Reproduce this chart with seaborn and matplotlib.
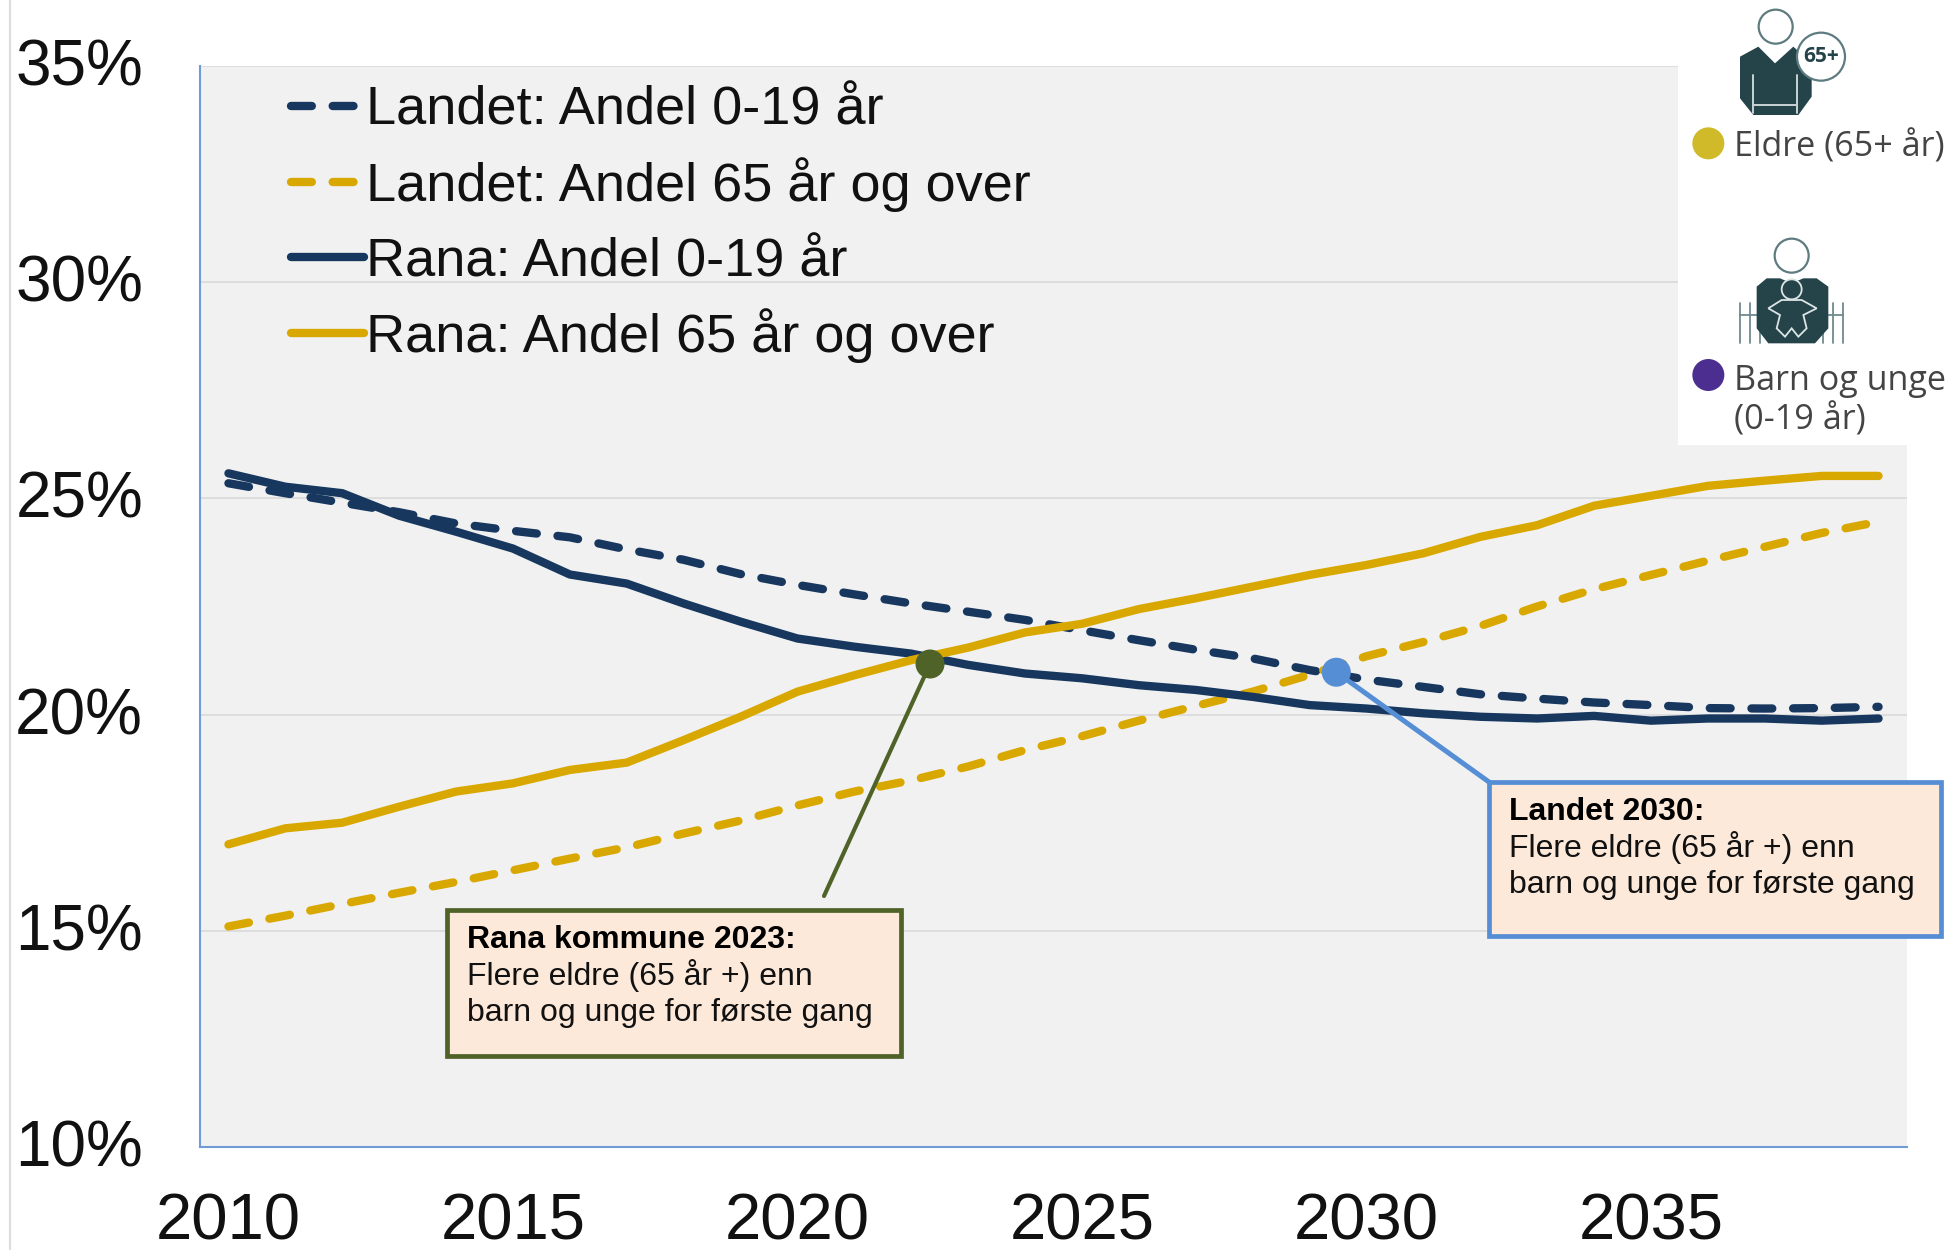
import matplotlib
matplotlib.use("Agg")
import matplotlib.pyplot as plt
from matplotlib.patches import Circle, Polygon, Rectangle
from matplotlib.transforms import ScaledTranslation
import seaborn as sns
import pandas as pd

years = list(range(2010, 2040))
landet_0_19 = [25.35, 25.12, 24.9, 24.68, 24.42, 24.25, 24.1, 23.82, 23.58, 23.25, 23.0, 22.78, 22.57, 22.38,
               22.19, 21.95, 21.72, 21.5, 21.3, 21.03, 20.81, 20.64, 20.47, 20.37, 20.28, 20.22, 20.15, 20.14, 20.15, 20.18]
landet_65 = [15.1, 15.35, 15.62, 15.88, 16.13, 16.4, 16.67, 16.93, 17.25, 17.55, 17.9, 18.22, 18.48, 18.8,
             19.18, 19.5, 19.86, 20.2, 20.53, 20.92, 21.35, 21.68, 22.05, 22.5, 22.9, 23.23, 23.56, 23.88, 24.2, 24.46]
rana_0_19 = [25.58, 25.27, 25.12, 24.6, 24.23, 23.84, 23.24, 23.03, 22.57, 22.15, 21.76, 21.57, 21.41, 21.15,
             20.95, 20.84, 20.68, 20.57, 20.41, 20.22, 20.14, 20.03, 19.95, 19.91, 19.97, 19.86, 19.91, 19.91, 19.86, 19.91]
rana_65 = [17.0, 17.37, 17.5, 17.87, 18.22, 18.41, 18.72, 18.89, 19.41, 19.95, 20.53, 20.91, 21.26, 21.55,
           21.9, 22.1, 22.44, 22.69, 22.96, 23.23, 23.46, 23.73, 24.11, 24.38, 24.83, 25.06, 25.29, 25.41, 25.52, 25.52]
series_labels = ["Landet: Andel 0-19 år", "Landet: Andel 65 år og over", "Rana: Andel 0-19 år", "Rana: Andel 65 år og over"]
y_ticks = [10, 15, 20, 25, 30, 35]
x_ticks = [2010, 2015, 2020, 2025, 2030, 2035]
callout_rana = (2022.33, 21.17)
callout_landet = (2029.47, 20.98)

NAVY, GOLD = "#17375E", "#D9A800"
GREEN, BLUE = "#4F6228", "#558ED5"
TEAL = "#24444A"
BOX = "#FDE9D9"

sns.set_theme(style="white")
plt.rcParams["font.family"] = ["Liberation Sans", "DejaVu Sans"]

W, H = 1952, 1250
fig = plt.figure(figsize=(W / 100, H / 100), dpi=100, facecolor="white")
ax = fig.add_axes([200 / W, 1 - 1147 / H, (1907 - 200) / W, (1147 - 66) / H], facecolor="#F1F1F1")

df = pd.DataFrame({"year": years, series_labels[0]: landet_0_19, series_labels[1]: landet_65,
                   series_labels[2]: rana_0_19, series_labels[3]: rana_65})
styles = [(NAVY, True), (GOLD, True), (NAVY, False), (GOLD, False)]
for name, (col, dashed) in zip(series_labels, styles):
    kw = dict(dashes=(2.5, 2.5), dash_capstyle="round") if dashed else dict(solid_capstyle="round")
    sns.lineplot(data=df, x="year", y=name, ax=ax, color=col, lw=6, label=name, zorder=3, **kw)

ax.set_xlim(2009.5, 2039.5)
ax.set_ylim(10, 35)
ax.set_xticks(x_ticks)
ax.set_yticks(y_ticks)
ax.set_xticklabels([str(v) for v in x_ticks], fontsize=47, color="#111111")
ax.set_yticklabels([f"{v}%" for v in y_ticks], fontsize=46, color="#111111")
ax.tick_params(axis="x", length=0, pad=33)
ax.tick_params(axis="y", length=0, pad=41)
shift_up = ScaledTranslation(0, 4 / 100, fig.dpi_scale_trans)
for lab in ax.get_yticklabels():
    lab.set_transform(lab.get_transform() + shift_up)
ax.set_xlabel("")
ax.set_ylabel("")
ax.yaxis.grid(True, color="#D9D9D9", lw=1.2)
ax.set_axisbelow(True)
for s in ("top", "right"):
    ax.spines[s].set_visible(False)
for s in ("left", "bottom"):
    ax.spines[s].set_color("#6F9BD6")
    ax.spines[s].set_linewidth(1.5)

leg = ax.legend(loc="upper left", bbox_to_anchor=(0.047, 0.992), frameon=False, fontsize=39,
                handlelength=1.34, handletextpad=0.05, labelspacing=0.4, borderaxespad=0, borderpad=0.2)
for t in leg.get_texts():
    t.set_color("#111111")
# even out the row spacing of the two lower legend rows
for t, line, dy in zip(leg.get_texts()[2:], leg.get_lines()[2:], (3.7, 2.5)):
    t.set_position((0, -dy))
    line.set_ydata([v - dy * 0.72 for v in line.get_ydata()])

# overlay in pixel units for panel, icons and callouts
ov = fig.add_axes([0, 0, 1, 1], facecolor="none")
ov.set_xlim(0, W)
ov.set_ylim(H, 0)
ov.axis("off")
ov.plot([10, 10], [0, H], color="#DDDDDD", lw=1.5)
ov.add_patch(Rectangle((1678, 0), 266, 445, fc="white", ec="none"))


def z(x, y):
    return 1660 + x / 3, y / 3


def head(x, y):
    cx, cy = z(x, y)
    ov.add_patch(Circle((cx, cy), 17, fc="white", ec="#5E7C80", lw=1.6))


# elderly icon
head(347, 80)
ov.add_patch(Polygon([z(*p) for p in [(240, 170), (295, 140), (345, 190), (400, 140), (455, 190), (455, 290),
                                      (415, 345), (280, 345), (240, 295)]], fc=TEAL, ec="none"))
for a, b in [((280, 225), (280, 340)), ((412, 225), (412, 340)), ((280, 315), (412, 315))]:
    p, q = z(*a), z(*b)
    ov.plot([p[0], q[0]], [p[1], q[1]], color="#C9D3D4", lw=1.4)
ov.add_patch(Circle(z(483, 170), 24, fc="white", ec="#5E7C80", lw=1.6, zorder=4))
ov.text(*z(483, 170), "65+", fontsize=15, fontweight="bold", color=TEAL, ha="center", va="center",
        family="Open Sans", stretch="condensed", zorder=5)
ov.add_patch(Circle(z(145, 430), 16, fc="#D0BA2A", ec="none"))
ov.text(1734, 147, "Eldre (65+ år)", fontsize=24.6, color="#444444", family="Open Sans", va="center")

# parent-with-baby icon
head(395, 767)
for x in (240, 270, 300, 490, 520, 550):
    p, q = z(x, 910), z(x, 1030)
    ov.plot([p[0], q[0]], [p[1], q[1]], color="#6E8A8E", lw=1.3)
p, q = z(240, 945), z(550, 945)
ov.plot([p[0], q[0]], [p[1], q[1]], color="#6E8A8E", lw=1.3)
ov.add_patch(Polygon([z(*p) for p in [(290, 860), (320, 835), (360, 835), (395, 850), (430, 835), (470, 835),
                                      (505, 860), (505, 985), (465, 1030), (325, 1030), (290, 985)]],
                     fc=TEAL, ec="none", zorder=3))
ov.add_patch(Circle(z(395, 868), 10, fc=TEAL, ec="#DDE4E5", lw=1.3, zorder=4))
ov.add_patch(Polygon([z(*p) for p in [(325, 925), (365, 900), (425, 900), (470, 925), (430, 945), (440, 985),
                                      (415, 1010), (395, 985), (375, 1010), (350, 985), (360, 945)]],
                     fc=TEAL, ec="#DDE4E5", lw=1.3, zorder=4))
ov.add_patch(Circle(z(145, 1125), 16, fc="#4B2E8F", ec="none"))
ov.text(1734, 381, "Barn og unge", fontsize=24.6, color="#444444", family="Open Sans", va="center")
ov.text(1734, 420, "(0-19 år)", fontsize=24.6, color="#444444", family="Open Sans", va="center")


def callout(pt, end, col, lw, box, title, lines):
    x0, y0, x1, y1 = box
    sx, sy = ov.transData.inverted().transform(ax.transData.transform(pt))
    ov.plot([sx, end[0]], [sy, end[1]], color=col, lw=lw, zorder=6)
    ov.add_patch(Circle((sx, sy), 14.5, fc=col, ec="none", zorder=7))
    ov.add_patch(Rectangle((x0, y0), x1 - x0, y1 - y0, fc=BOX, ec=col, lw=3.4, zorder=6))
    ov.text(x0 + 20, y0 + 30, title, fontsize=23, fontweight="bold", color="black", va="center", zorder=8)
    for i, line in enumerate(lines):
        ov.text(x0 + 20, y0 + 66 + 37 * i, line, fontsize=23, color="#111111", va="center", zorder=8)


msg = ["Flere eldre (65 år +) enn", "barn og unge for første gang"]
callout(callout_rana, (824, 896), GREEN, 3, (447, 910, 901, 1056), "Rana kommune 2023:", msg)
callout(callout_landet, (1489, 782), BLUE, 3.6, (1489, 782, 1941, 936), "Landet 2030:", msg)

fig.savefig("out.png", dpi=100)
